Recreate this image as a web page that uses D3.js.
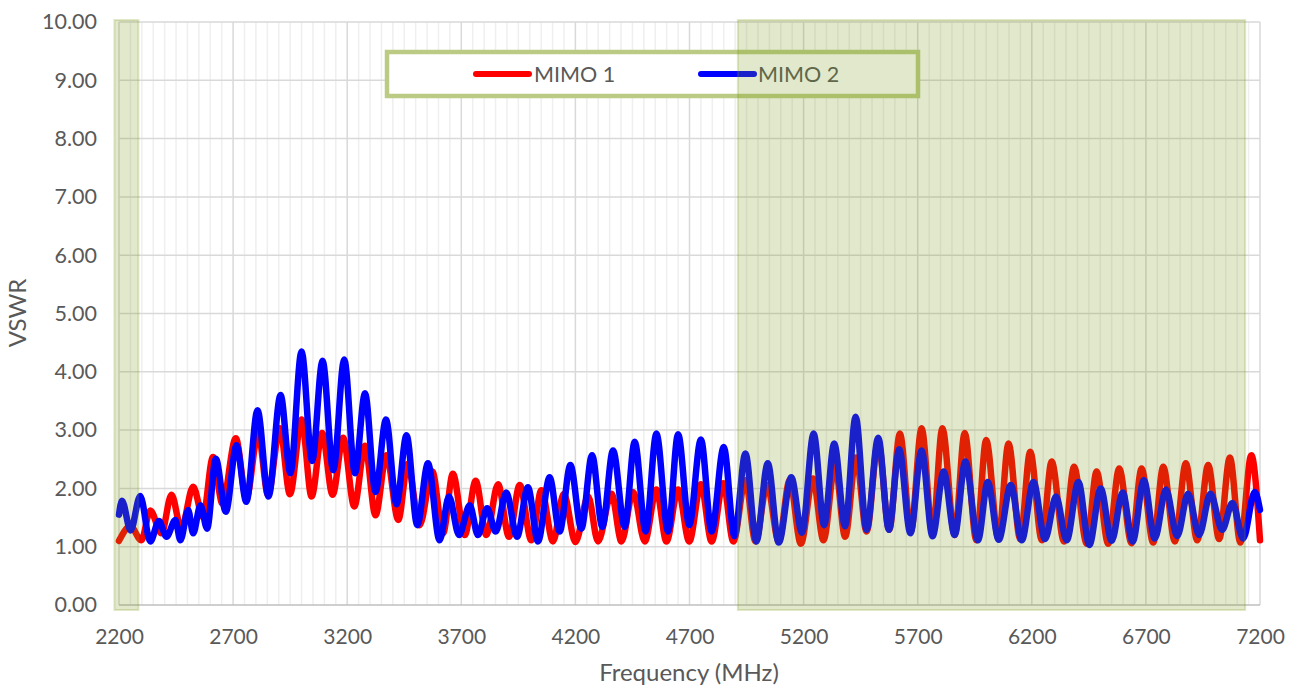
<!DOCTYPE html>
<html>
<head>
<meta charset="utf-8">
<script src="https://cdn.jsdelivr.net/npm/d3@7"></script>
<style>
  html, body { margin: 0; padding: 0; background: #ffffff; }
  svg { display: block; }
  text { font-family: Lato, "Open Sans", sans-serif; fill: #595959; }
</style>
</head>
<body>
<svg id="chart" width="1298" height="691"></svg>
<script>
// ---- data ----
const xTicks = [2200, 2700, 3200, 3700, 4200, 4700, 5200, 5700, 6200, 6700, 7200];
const yTicks = [0, 1, 2, 3, 4, 5, 6, 7, 8, 9, 10];
const seriesNames = ["MIMO 1", "MIMO 2"];

const mimo1Freq = [2200,2250,2298,2337,2386,2430,2473,2525,2568,2612,2653,2712,2758,2810,2853,2905,2949,3000,3044,3090,3136,3182,3231,3278,3324,3372,3424,3465,3517,3573,3620,3663,3715,3763,3810,3861,3909,3956,4007,4051,4102,4149,4200,4256,4299,4358,4402,4453,4504,4555,4599,4650,4699,4750,4797,4848,4892,4945,4989,5040,5091,5139,5188,5241,5287,5338,5382,5430,5476,5527,5575,5622,5670,5717,5765,5808,5862,5906,5957,6000,6054,6098,6149,6193,6244,6287,6341,6385,6441,6484,6535,6583,6637,6681,6732,6776,6827,6875,6925,6973,7021,7068,7114,7162,7200];
const mimo1VSWR = [1.10,1.35,1.11,1.62,1.23,1.89,1.31,2.03,1.51,2.54,1.74,2.86,1.83,2.95,1.89,3.03,1.90,3.18,1.86,2.95,1.89,2.87,1.69,2.73,1.54,2.57,1.46,2.42,1.37,2.29,1.23,2.25,1.20,2.13,1.20,2.07,1.17,2.06,1.11,1.97,1.09,1.91,1.08,1.86,1.09,1.91,1.09,1.94,1.09,1.98,1.09,1.98,1.09,2.07,1.09,2.09,1.09,2.14,1.09,2.06,1.09,2.14,1.05,2.17,1.11,2.40,1.17,2.53,1.26,2.80,1.29,2.94,1.26,3.03,1.23,3.03,1.20,2.95,1.11,2.83,1.14,2.77,1.13,2.63,1.11,2.46,1.09,2.37,1.05,2.29,1.05,2.34,1.06,2.34,1.07,2.37,1.09,2.43,1.11,2.40,1.13,2.53,1.07,2.57,1.11];

const mimo2Freq = [2200,2213,2251,2293,2337,2375,2408,2447,2469,2503,2525,2557,2586,2624,2668,2715,2758,2807,2855,2908,2951,3000,3046,3092,3139,3187,3234,3278,3324,3370,3416,3460,3507,3554,3605,3646,3690,3737,3773,3813,3851,3897,3944,3992,4036,4087,4131,4178,4226,4273,4318,4365,4416,4460,4508,4555,4606,4650,4699,4750,4797,4850,4897,4945,4993,5043,5091,5146,5193,5244,5290,5334,5382,5428,5476,5527,5574,5619,5668,5717,5765,5814,5862,5909,5964,6007,6055,6108,6156,6207,6258,6306,6353,6404,6452,6502,6550,6598,6642,6691,6739,6788,6837,6885,6933,6983,7034,7079,7126,7177,7200];
const mimo2VSWR = [1.55,1.79,1.28,1.87,1.09,1.44,1.17,1.46,1.11,1.63,1.23,1.71,1.31,2.51,1.60,2.74,1.77,3.34,1.86,3.60,2.26,4.35,2.47,4.19,2.31,4.21,2.26,3.63,1.94,3.18,1.73,2.91,1.37,2.43,1.11,1.86,1.20,1.71,1.20,1.66,1.26,1.93,1.17,2.02,1.09,2.19,1.26,2.40,1.31,2.57,1.34,2.65,1.34,2.80,1.26,2.94,1.26,2.93,1.37,2.84,1.26,2.71,1.18,2.60,1.09,2.43,1.07,2.19,1.24,2.94,1.37,2.77,1.35,3.23,1.29,2.87,1.29,2.67,1.23,2.65,1.18,2.29,1.20,2.46,1.11,2.11,1.12,2.06,1.11,2.11,1.13,1.86,1.11,2.11,1.03,2.00,1.10,1.93,1.09,2.14,1.14,1.98,1.18,1.91,1.20,1.91,1.29,1.75,1.14,1.94,1.63];

// highlighted frequency bands (MHz)
const bandStart = [2180, 4912];
const bandEnd = [2285, 7135];

// ---- chart ----
const svg = d3.select("#chart");
const m = { left: 119, right: 1260, top: 22, bottom: 605 };

const x = d3.scaleLinear().domain([2200, 7200]).range([m.left, m.right]);
const y = d3.scaleLinear().domain([0, 10]).range([m.bottom, m.top]);

const grid = svg.append("g");
// minor vertical gridlines every 50 MHz
const minor = d3.range(2200, 7201, 50).filter(f => (f - 2200) % 500 !== 0);
grid.selectAll("line.minor").data(minor).join("line")
  .attr("x1", d => x(d)).attr("x2", d => x(d))
  .attr("y1", m.top).attr("y2", m.bottom)
  .attr("stroke", "#efefef").attr("stroke-width", 1.5);
// major vertical gridlines
grid.selectAll("line.vmaj").data(xTicks).join("line")
  .attr("x1", d => x(d)).attr("x2", d => x(d))
  .attr("y1", m.top).attr("y2", m.bottom)
  .attr("stroke", "#d9d9d9").attr("stroke-width", 1.5);
// horizontal gridlines
grid.selectAll("line.h").data(yTicks.filter(v => v > 0)).join("line")
  .attr("x1", m.left).attr("x2", m.right)
  .attr("y1", d => y(d)).attr("y2", d => y(d))
  .attr("stroke", "#d9d9d9").attr("stroke-width", 1.5);
// bottom axis line
grid.append("line")
  .attr("x1", m.left).attr("x2", m.right)
  .attr("y1", y(0)).attr("y2", y(0))
  .attr("stroke", "#bfbfbf").attr("stroke-width", 1.5);

// axes labels
const xAxis = svg.append("g")
  .attr("transform", `translate(0,${m.bottom})`)
  .call(d3.axisBottom(x).tickValues(xTicks).tickFormat(d3.format("d")).tickSize(0).tickPadding(24));
xAxis.select(".domain").remove();
xAxis.selectAll("text").style("font-size", "21px").style("font-family", "Lato, sans-serif").attr("fill", "#595959");

const yAxis = svg.append("g")
  .attr("transform", `translate(${m.left},0)`)
  .call(d3.axisLeft(y).tickValues(yTicks).tickFormat(d3.format(".2f")).tickSize(0).tickPadding(22));
yAxis.select(".domain").remove();
yAxis.selectAll("text").style("font-size", "21.5px").style("font-family", "Lato, sans-serif").attr("fill", "#595959");

svg.append("text")
  .attr("x", 689).attr("y", 675)
  .attr("text-anchor", "middle").attr("dominant-baseline", "middle")
  .style("font-size", "24px")
  .text("Frequency (MHz)");

svg.append("text")
  .attr("transform", "translate(20,313) rotate(-90)")
  .attr("text-anchor", "middle").attr("dominant-baseline", "middle")
  .style("font-size", "24px")
  .text("VSWR");

// series lines
const line = d3.line()
  .x(d => x(d[0])).y(d => y(d[1]))
  .curve(d3.curveMonotoneX);

const s1 = mimo1Freq.map((f, i) => [f, mimo1VSWR[i]]);
const s2 = mimo2Freq.map((f, i) => [f, mimo2VSWR[i]]);
const colors = ["#ff0000", "#0000ff"];

svg.append("path").datum(s1).attr("d", line)
  .attr("fill", "none").attr("stroke", colors[0]).attr("stroke-width", 6.5)
  .attr("stroke-linejoin", "round").attr("stroke-linecap", "round");
svg.append("path").datum(s2).attr("d", line)
  .attr("fill", "none").attr("stroke", colors[1]).attr("stroke-width", 6.5)
  .attr("stroke-linejoin", "round").attr("stroke-linecap", "round");

// legend
const lg = svg.append("g");
lg.append("rect")
  .attr("x", 387).attr("y", 52).attr("width", 531).attr("height", 44)
  .attr("fill", "#ffffff").attr("stroke", "#bccb84").attr("stroke-width", 4.5);
const legendItems = [
  { name: seriesNames[0], color: colors[0], x0: 476, x1: 529, tx: 534 },
  { name: seriesNames[1], color: colors[1], x0: 701, x1: 754, tx: 758 }
];
legendItems.forEach(it => {
  lg.append("line").attr("x1", it.x0).attr("x2", it.x1).attr("y1", 74).attr("y2", 74)
    .attr("stroke", it.color).attr("stroke-width", 6).attr("stroke-linecap", "round");
  lg.append("text").attr("x", it.tx).attr("y", 74).attr("dominant-baseline", "central")
    .style("font-size", "21.5px").text(it.name);
});

// highlighted band overlays (drawn on top)
const bands = bandStart.map((s, i) => [s, bandEnd[i]]);
svg.append("g").selectAll("rect").data(bands).join("rect")
  .attr("x", d => x(d[0])).attr("width", d => x(d[1]) - x(d[0]))
  .attr("y", y(10) - 2).attr("height", (y(0) + 5) - (y(10) - 2))
  .attr("fill", "rgba(120,150,20,0.22)")
  .attr("stroke", "rgba(120,150,20,0.22)").attr("stroke-width", 2);
</script>
</body>
</html>
